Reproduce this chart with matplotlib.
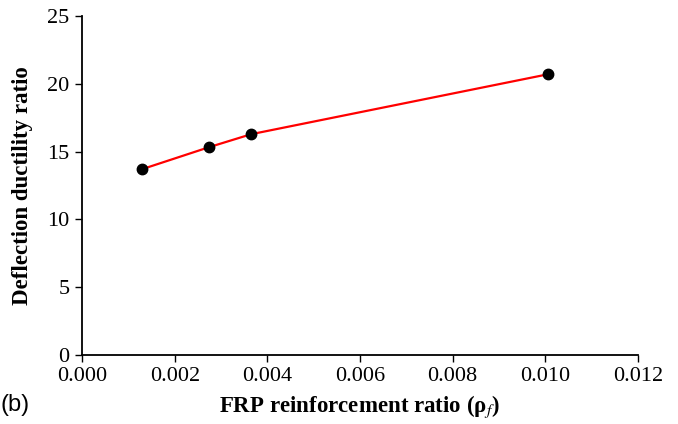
#!/usr/bin/env python3
"""Deflection ductility ratio vs FRP reinforcement ratio, panel (b)."""

import matplotlib.pyplot as plt

plt.rcParams.update({
    'font.family': 'serif',
    'font.serif': ['Liberation Serif', 'DejaVu Serif'],
    'mathtext.fontset': 'stix',
    'font.size': 16,
})

# Data
frp_ratio = [0.0013, 0.00274, 0.00365, 0.01006]
ductility = [13.71, 15.33, 16.29, 20.72]

x_ticks = [0.000, 0.002, 0.004, 0.006, 0.008, 0.010, 0.012]
y_ticks = [0, 5, 10, 15, 20, 25]

fig = plt.figure(figsize=(6.78, 4.24), dpi=100)
ax = fig.add_axes([0.121, 0.1635, 0.82, 0.798])

ax.plot(frp_ratio, ductility, '-', color='#ff0000', linewidth=1.6, zorder=2)
ax.plot(frp_ratio, ductility, 'o', color='black', markersize=7.5, zorder=3)

ax.set_xlim(0, 0.012)
ax.set_ylim(0, 25)
ax.set_xticks(x_ticks)
ax.set_xticklabels([f'{v:.3f}' for v in x_ticks])
ax.set_yticks(y_ticks)

for side in ('top', 'right'):
    ax.spines[side].set_visible(False)
for side in ('left', 'bottom'):
    ax.spines[side].set_linewidth(1.3)
ax.tick_params(direction='out', length=5, width=1, pad=4)

ax.set_xlabel('FRP reinforcement ratio (ρ$_f$)', fontweight='bold',
              fontsize=16.5, labelpad=5)
ax.set_ylabel('Deflection ductility ratio', fontweight='bold',
              fontsize=16.5, labelpad=10)

fig.text(0.0, 0.03, '(b)', family=['Liberation Sans', 'DejaVu Sans'], fontsize=17)

fig.savefig('out.png', dpi=100)
